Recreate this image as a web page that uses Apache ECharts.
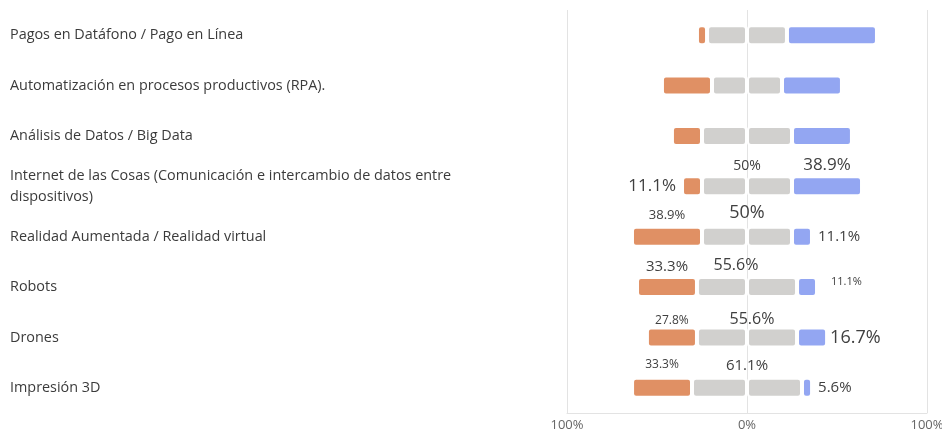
<!DOCTYPE html>
<html>
<head>
<meta charset="utf-8">
<script src="https://cdn.jsdelivr.net/npm/echarts@6/dist/echarts.min.js"></script>
<style>
  html, body { margin: 0; padding: 0; background: #fff; }
  #chart { width: 942px; height: 433px; }
</style>
</head>
<body>
<div id="chart"></div>
<script>
// categorías (de arriba hacia abajo)
const categories = [
  'Pagos en Datáfono / Pago en Línea',
  'Automatización en procesos productivos (RPA).',
  'Análisis de Datos / Big Data',
  'Internet de las Cosas (Comunicación e intercambio de datos entre dispositivos)',
  'Realidad Aumentada / Realidad virtual',
  'Robots',
  'Drones',
  'Impresión 3D'
]

// porcentajes por categoría
const negativo = [5.6, 27.8, 16.7, 11.1, 38.9, 33.3, 27.8, 33.3]
const neutral = [44.4, 38.9, 50, 50, 50, 55.6, 55.6, 61.1]
const positivo = [50, 33.3, 33.3, 38.9, 11.1, 11.1, 16.7, 5.6]

const axisTicks = [-100, 0, 100]

// estilo de etiquetas por fila (solo las filas etiquetadas)
const negLabel = {
  3: { position: 'left', fontSize: 17, distance: 6 },
  4: { position: 'top', fontSize: 13, distance: 5 },
  5: { position: 'top', fontSize: 15, distance: 3 },
  6: { position: 'top', fontSize: 12, distance: 1 },
  7: { position: 'top', fontSize: 12, distance: 7 }
}
const neuLabel = {
  3: { fontSize: 14, dy: 3, dx: 0 },
  4: { fontSize: 18, dy: 5, dx: 0 },
  5: { fontSize: 16, dy: 4, dx: -11 },
  6: { fontSize: 16, dy: 0, dx: 5 },
  7: { fontSize: 15, dy: 5, dx: 0 }
}
const posLabel = {
  3: { position: 'top', fontSize: 17, distance: 3 },
  4: { position: 'right', fontSize: 15, distance: 6 },
  5: { position: 'right', fontSize: 11, distance: 14, offset: [0, -5] },
  6: { position: 'right', fontSize: 18, distance: 3 },
  7: { position: 'right', fontSize: 15, distance: 6 }
}

const fmt = (v) => `${+v.toFixed(1)}%`
const labelColor = '#404040'

const chart = echarts.init(document.getElementById('chart'))

const makeData = (values, styles, sign, text) => values.map((v, i) => {
  const s = styles[i]
  if (!s) return { value: sign * v, label: { show: false } }
  return {
    value: sign * v,
    label: Object.assign({ show: true, color: labelColor, formatter: text(i) }, s)
  }
})

const neutralRight = neutral.map((v, i) => {
  const s = neuLabel[i]
  const item = { value: v / 2 }
  if (!s) {
    item.label = { show: false }
  } else {
    item.label = {
      show: true,
      position: [s.dx, -s.dy],
      align: 'center',
      verticalAlign: 'bottom',
      fontSize: s.fontSize,
      color: labelColor,
      formatter: fmt(v)
    }
  }
  return item
})

const barBase = {
  type: 'bar',
  stack: 'total',
  barWidth: 20,
  itemStyle: { borderColor: '#fff', borderWidth: 2, borderRadius: 3 }
}

const option = {
  animation: false,
  textStyle: { fontFamily: '"Segoe UI", "Open Sans", "Noto Sans", sans-serif' },
  grid: { left: 567, right: 15, top: 10, bottom: 20, containLabel: false, outerBoundsMode: 'none' },
  xAxis: {
    type: 'value',
    min: axisTicks[0],
    max: axisTicks[2],
    interval: 100,
    axisLine: { show: true, lineStyle: { color: '#e3e3e3' } },
    axisTick: { show: false },
    splitLine: { lineStyle: { color: '#e3e3e3' } },
    axisLabel: {
      color: '#666',
      fontSize: 13,
      margin: 6,
      formatter: (v) => `${Math.abs(v)}%`
    }
  },
  yAxis: {
    type: 'category',
    inverse: true,
    data: categories,
    axisLine: { show: false },
    axisTick: { show: false },
    axisLabel: {
      align: 'left',
      margin: 557,
      color: '#3b3b3b',
      fontSize: 14.4,
      lineHeight: 21,
      width: 475,
      overflow: 'break'
    }
  },
  series: [
    Object.assign({}, barBase, {
      name: 'Neutral izq',
      data: neutral.map((v) => -v / 2),
      itemStyle: Object.assign({}, barBase.itemStyle, { color: '#d1d0ce' }),
      label: { show: false }
    }),
    Object.assign({}, barBase, {
      name: 'Negativo',
      data: makeData(negativo, negLabel, -1, (i) => fmt(negativo[i])),
      itemStyle: Object.assign({}, barBase.itemStyle, { color: '#e09064' })
    }),
    Object.assign({}, barBase, {
      name: 'Neutral der',
      data: neutralRight,
      itemStyle: Object.assign({}, barBase.itemStyle, { color: '#d1d0ce' })
    }),
    Object.assign({}, barBase, {
      name: 'Positivo',
      data: makeData(positivo, posLabel, 1, (i) => fmt(positivo[i])),
      itemStyle: Object.assign({}, barBase.itemStyle, { color: '#93a6f2' })
    })
  ]
}

chart.setOption(option)
</script>
</body>
</html>
